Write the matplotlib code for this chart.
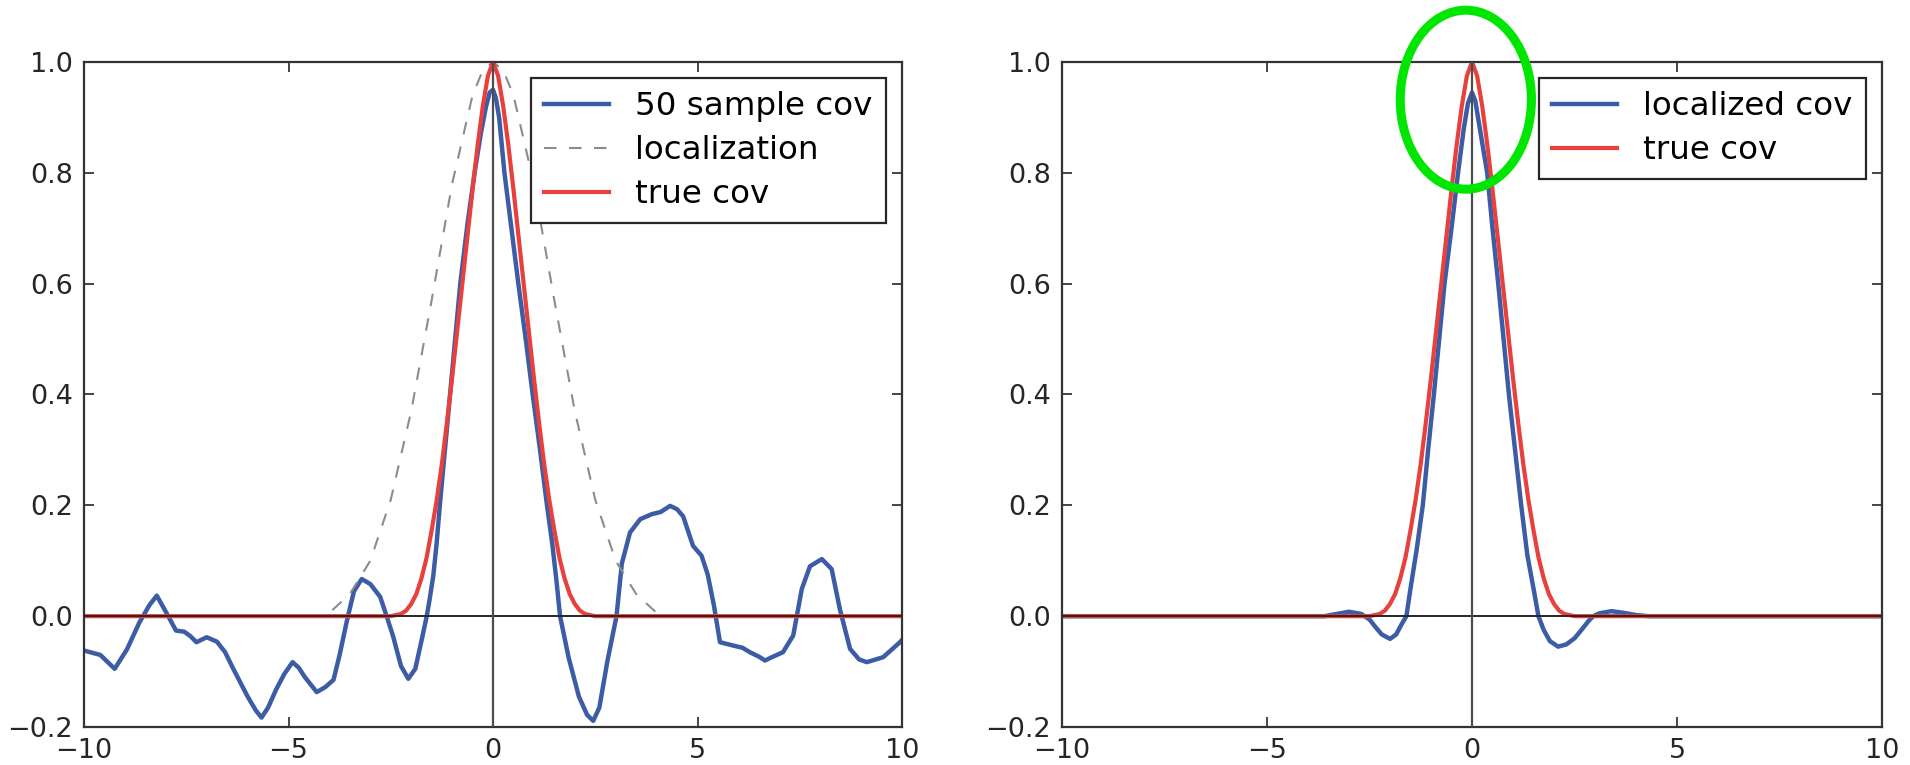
import matplotlib
matplotlib.use("Agg")
import matplotlib.pyplot as plt
from matplotlib.patches import Ellipse

# ---- data ----
sample_x = [-10.0, -9.6, -9.25, -8.95, -8.65, -8.4, -8.22, -8.0, -7.75, -7.55, -7.4, -7.25,
            -7.0, -6.75, -6.55, -6.35, -6.0, -5.8, -5.66, -5.5, -5.3, -5.1, -4.9, -4.75,
            -4.6, -4.31, -4.1, -3.9, -3.75, -3.58, -3.4, -3.21, -3.0, -2.76, -2.6, -2.44,
            -2.25, -2.07, -1.9, -1.75, -1.62, -1.55, -1.46, -1.38, -1.3, -1.2, -1.1, -0.95,
            -0.8, -0.62, -0.45, -0.3, -0.17, -0.08, 0.0, 0.07, 0.15, 0.28, 0.45, 0.62,
            0.8, 0.97, 1.15, 1.32, 1.45, 1.55, 1.64, 1.85, 2.1, 2.3, 2.45, 2.6, 2.8, 3.02,
            3.15, 3.35, 3.6, 3.88, 4.1, 4.33, 4.5, 4.65, 4.89, 5.1, 5.25, 5.4, 5.55, 5.87,
            6.1, 6.28, 6.5, 6.65, 6.85, 7.09, 7.34, 7.55, 7.75, 8.04, 8.28, 8.48, 8.73,
            8.95, 9.14, 9.54, 9.95, 10.0]
sample_y = [-0.062, -0.070, -0.095, -0.060, -0.012, 0.020, 0.037, 0.008, -0.026, -0.028,
            -0.036, -0.047, -0.038, -0.046, -0.065, -0.095, -0.145, -0.170, -0.183, -0.165,
            -0.132, -0.104, -0.083, -0.093, -0.110, -0.137, -0.128, -0.115, -0.070, -0.011,
            0.045, 0.067, 0.058, 0.035, 0.000, -0.037, -0.090, -0.113, -0.095, -0.045,
            0.000, 0.030, 0.073, 0.130, 0.200, 0.280, 0.360, 0.480, 0.600, 0.710, 0.800,
            0.870, 0.920, 0.945, 0.950, 0.935, 0.900, 0.800, 0.700, 0.600, 0.500, 0.400,
            0.300, 0.200, 0.130, 0.065, 0.000, -0.075, -0.145, -0.178, -0.189, -0.165,
            -0.080, 0.000, 0.095, 0.151, 0.175, 0.184, 0.188, 0.199, 0.193, 0.180, 0.127,
            0.109, 0.075, 0.020, -0.047, -0.053, -0.057, -0.065, -0.073, -0.080, -0.073,
            -0.065, -0.035, 0.049, 0.090, 0.103, 0.085, 0.013, -0.059, -0.078, -0.083,
            -0.074, -0.047, -0.043]

loc_x = [-10.0, -4.2, -4.0, -3.5, -3.0, -2.5, -2.0, -1.5, -1.0, -0.5, -0.25, 0.0,
         0.25, 0.5, 1.0, 1.5, 2.0, 2.5, 3.0, 3.5, 4.0, 4.2, 10.0]
loc_y = [0.0, 0.0, 0.006, 0.040, 0.100, 0.210, 0.370, 0.570, 0.780, 0.940, 0.985, 1.0,
         0.985, 0.940, 0.780, 0.570, 0.370, 0.210, 0.100, 0.040, 0.006, 0.0, 0.0]

true_x = [-10.0, -2.5, -2.25, -2.125, -2.0, -1.875, -1.75, -1.625, -1.5, -1.375, -1.25,
          -1.125, -1.0, -0.875, -0.75, -0.625, -0.5, -0.375, -0.25, -0.125, 0.0,
          0.125, 0.25, 0.375, 0.5, 0.625, 0.75, 0.875, 1.0, 1.125, 1.25, 1.375, 1.5,
          1.625, 1.75, 1.875, 2.0, 2.125, 2.25, 2.5, 10.0]
true_y = [0.0, 0.0, 0.004, 0.010, 0.022, 0.040, 0.068, 0.105, 0.155, 0.210, 0.275,
          0.350, 0.430, 0.515, 0.600, 0.685, 0.770, 0.850, 0.920, 0.975, 1.0,
          0.975, 0.920, 0.850, 0.770, 0.685, 0.600, 0.515, 0.430, 0.350, 0.275, 0.210,
          0.155, 0.105, 0.068, 0.040, 0.022, 0.010, 0.004, 0.0, 0.0]

locd_x = [-10.0, -3.6, -3.3, -3.0, -2.7, -2.5, -2.35, -2.2, -2.0, -1.85, -1.72, -1.6,
          -1.5, -1.35, -1.2, -1.07, -0.93, -0.8, -0.67, -0.5, -0.34, -0.2, -0.1, 0.0,
          0.08, 0.18, 0.37, 0.5, 0.64, 0.77, 0.9, 1.05, 1.2, 1.35, 1.5, 1.62, 1.75, 1.9,
          2.1, 2.3, 2.5, 2.7, 2.85, 2.96, 3.1, 3.4, 3.7, 4.0, 4.3, 10.0]
locd_y = [0.0, 0.0, 0.004, 0.008, 0.004, -0.006, -0.020, -0.033, -0.041, -0.033, -0.015,
          0.0, 0.050, 0.120, 0.200, 0.300, 0.400, 0.500, 0.600, 0.700, 0.800, 0.880,
          0.925, 0.945, 0.930, 0.885, 0.800, 0.700, 0.600, 0.500, 0.400, 0.300, 0.200,
          0.110, 0.050, 0.0, -0.025, -0.045, -0.055, -0.051, -0.040, -0.022, -0.008,
          0.0, 0.005, 0.009, 0.006, 0.002, 0.0, 0.0]

x_ticks = [-10, -5, 0, 5, 10]
y_ticks = [-0.2, 0.0, 0.2, 0.4, 0.6, 0.8, 1.0]

BLUE = "#3c5ca6"
RED = "#e8403c"
GRAY = "0.55"
EDGE = "0.2"

fig = plt.figure(figsize=(19.1, 7.65), dpi=100)
ax1 = fig.add_axes([84 / 1910, 1 - 727 / 765, (902 - 84) / 1910, (727 - 62) / 765])
ax2 = fig.add_axes([1062 / 1910, 1 - 727 / 765, (1882 - 1062) / 1910, (727 - 62) / 765])


def style(ax):
    ax.set_xlim(-10, 10)
    ax.set_ylim(-0.2, 1.0)
    ax.set_xticks(x_ticks)
    ax.set_yticks(y_ticks)
    ax.set_xticklabels([str(t).replace("-", "\u2212") for t in x_ticks])
    ax.set_yticklabels([f"{t:.1f}".replace("-", "\u2212") for t in y_ticks])
    ax.tick_params(direction="in", length=7, width=1.2, top=True, right=True,
                   labelsize=19.5, colors="0.15", pad=8)
    for s in ax.spines.values():
        s.set_linewidth(1.6)
        s.set_color(EDGE)
    ax.axhline(0, color="0.15", lw=1.4, zorder=4)
    ax.axvline(0, color="0.3", lw=1.6, zorder=4)


leg_kw = dict(loc="upper right", fontsize=23.4, fancybox=False, framealpha=1,
              edgecolor="0.15", borderpad=0.4, labelspacing=0.4, handlelength=2.0,
              handletextpad=0.8, borderaxespad=0.5)

ax1.plot(sample_x, sample_y, color=BLUE, lw=3.2, label="50 sample cov")
ax1.plot(loc_x, loc_y, color=GRAY, lw=1.5, ls=(0, (6, 6)), label="localization")
ax1.plot(true_x, true_y, color=RED, lw=3.0, label="true cov")
style(ax1)
l1 = ax1.legend(**leg_kw)
l1.get_frame().set_linewidth(1.6)

ax2.plot(locd_x, locd_y, color=BLUE, lw=3.2, label="localized cov")
ax2.plot(true_x, true_y, color=RED, lw=3.0, label="true cov")
style(ax2)
l2 = ax2.legend(**leg_kw)
l2.get_frame().set_linewidth(1.6)

ell = Ellipse((-0.15, 0.932), width=3.2, height=0.323, fill=False, edgecolor="#00e600",
              lw=6.5, clip_on=False, zorder=10)
ax2.add_patch(ell)

fig.savefig("out.png", dpi=100)
